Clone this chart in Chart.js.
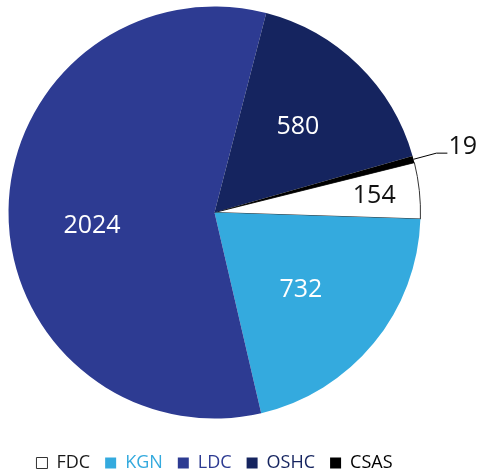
<!DOCTYPE html>
<html><head><meta charset="utf-8">
<script src="https://cdn.jsdelivr.net/npm/chart.js@4/dist/chart.umd.min.js"></script>
<style>html,body{margin:0;padding:0;background:#fff;}</style>
</head><body>
<canvas id="c" width="480" height="474" style="width:480px;height:474px;display:block"></canvas>
<script>
const categories = ['FDC', 'KGN', 'LDC', 'OSHC', 'CSAS'];
const values = [154, 732, 2024, 580, 19];
const sliceColors = ['#ffffff', '#34aade', '#2d3b92', '#15245f', '#000000'];
const legendTextColors = ['#1a1a1a', '#34aade', '#2d3b92', '#15245f', '#000000'];
const labelColors = ['#111111', '#ffffff', '#ffffff', '#ffffff', '#111111'];
const borderWidths = [1, 0, 0, 0, 0];

const FONT = '"Open Sans", "Noto Sans", sans-serif';

const sliceLabels = {
  id: 'sliceLabels',
  afterDatasetsDraw(chart, args, opts) {
    const meta = chart.getDatasetMeta(0);
    const ds = chart.data.datasets[0];
    const total = ds.data.reduce((a, b) => a + b, 0);
    const nudge = opts.nudge || {};
    const ctx = chart.ctx;
    ctx.save();
    ctx.font = '25px ' + FONT;
    meta.data.forEach((arc, i) => {
      const v = ds.data[i];
      const share = v / total;
      const p = arc.getProps(['x', 'y', 'startAngle', 'endAngle', 'outerRadius'], true);
      const mid = (p.startAngle + p.endAngle) / 2;
      const c = Math.cos(mid), s = Math.sin(mid);
      const [nx, ny] = nudge[i] || [0, 0];
      ctx.fillStyle = labelColors[i];
      if (share < 0.02) {
        const x0 = p.x + c * p.outerRadius, y0 = p.y + s * p.outerRadius;
        const x1 = p.x + c * p.outerRadius * 1.115, y1 = p.y + s * p.outerRadius * 1.115;
        const x2 = x1 + 11;
        ctx.strokeStyle = '#000';
        ctx.lineWidth = 1;
        ctx.beginPath();
        ctx.moveTo(x0, y0); ctx.lineTo(x1, y1); ctx.lineTo(x2, y1);
        ctx.stroke();
        ctx.textAlign = 'left';
        ctx.textBaseline = 'alphabetic';
        ctx.fillText(String(v), x2 + 1, y1 + 1);
      } else {
        const f = share < 0.1 ? 0.78 : 0.58;
        ctx.textAlign = 'center';
        ctx.textBaseline = 'middle';
        ctx.fillText(String(v), p.x + c * p.outerRadius * f + nx, p.y + s * p.outerRadius * f + ny);
      }
    });
    ctx.restore();
  }
};

new Chart(document.getElementById('c'), {
  type: 'pie',
  data: {
    labels: categories,
    datasets: [{
      data: values,
      backgroundColor: sliceColors,
      borderColor: '#333333',
      borderWidth: borderWidths,
      hoverOffset: 0
    }]
  },
  options: {
    responsive: false,
    animation: false,
    rotation: 76,
    layout: { padding: { left: 8, right: 59, top: 6, bottom: 0 } },
    plugins: {
      tooltip: { enabled: false },
      sliceLabels: { nudge: { 1: [-6, 2], 2: [-3, 15] } },
      legend: {
        position: 'bottom',
        maxHeight: 55,
        title: { display: true, text: '', font: { size: 10 }, padding: { top: 8, bottom: 0 } },
        labels: {
          boxWidth: 11,
          boxHeight: 11,
          padding: 15,
          font: { family: FONT, size: 18 },
          color: '#1a1a1a',
          generateLabels(chart) {
            const base = Chart.overrides.pie.plugins.legend.labels.generateLabels(chart);
            return base.map((it, i) => Object.assign(it, {
              fontColor: legendTextColors[i],
              strokeStyle: i === 0 ? '#333333' : sliceColors[i],
              lineWidth: i === 0 ? 1 : 0
            }));
          }
        }
      }
    }
  },
  plugins: [sliceLabels]
});
</script>
</body></html>
